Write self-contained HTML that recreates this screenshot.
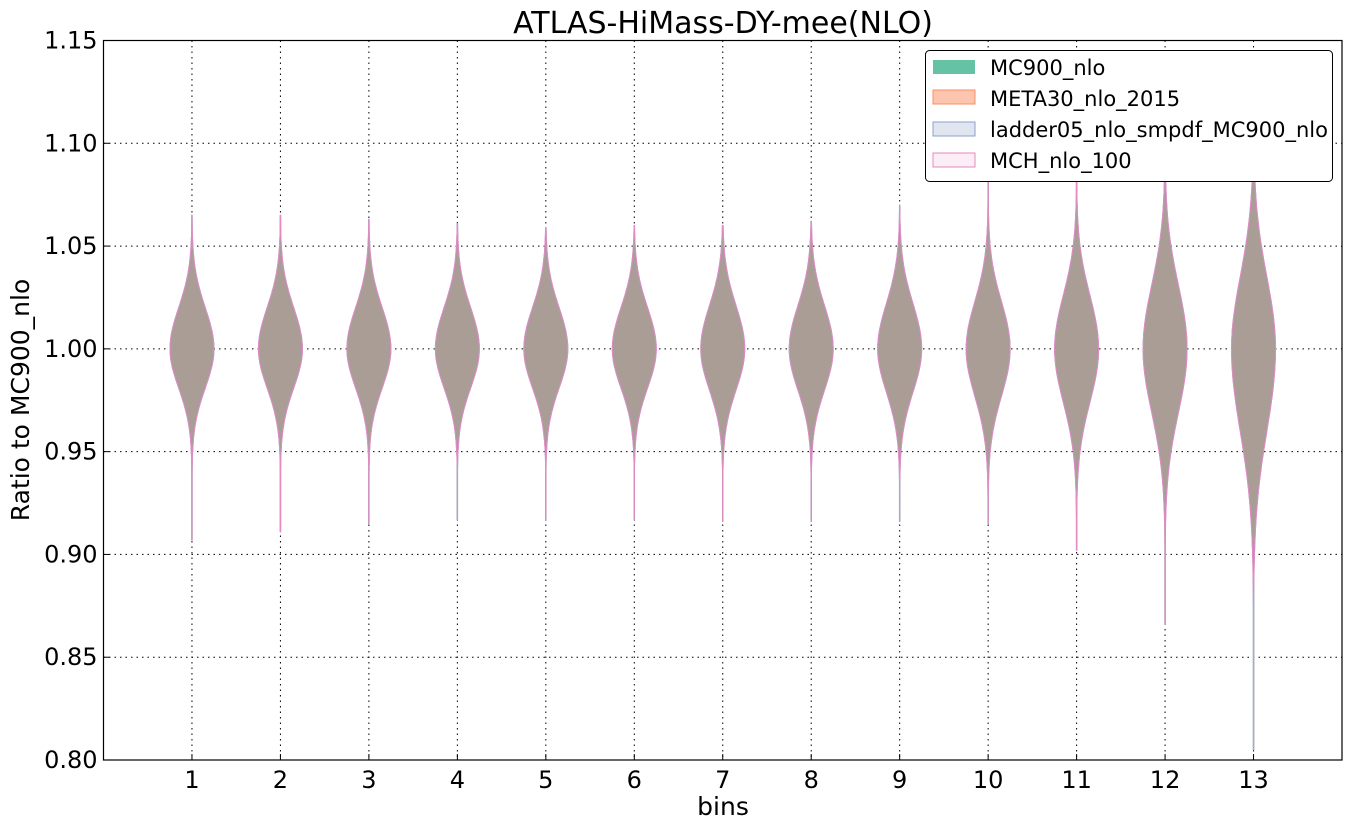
<!DOCTYPE html>
<html><head><meta charset="utf-8"><style>
body{margin:0;background:#fff;}
svg text{font-family:"DejaVu Sans","Liberation Sans",sans-serif;fill:#000;}
</style></head><body>
<svg id="chart" width="1353" height="830" xmlns="http://www.w3.org/2000/svg">
<rect width="1353" height="830" fill="#fff"/>
<g id="grid"></g>
<g id="violins"></g>
<rect x="103.5" y="40.5" width="1238.5" height="719.5" fill="none" stroke="#000" stroke-width="1.2"/>
<g id="ticks"></g>
<text x="723" y="33" font-size="30" text-anchor="middle">ATLAS-HiMass-DY-mee(NLO)</text>
<text x="723" y="815" font-size="25" text-anchor="middle">bins</text>
<text transform="translate(29,400) rotate(-90)" font-size="25" text-anchor="middle">Ratio to MC900_nlo</text>
<g>
<rect x="925.5" y="50.5" width="407" height="131" rx="4" fill="#fff" stroke="#000" stroke-width="1"/>
<g><rect x="933" y="60" width="42" height="14" fill="#66c2a5"/><text x="990" y="75" font-size="21">MC900_nlo</text></g>
<g><rect x="933" y="90" width="42" height="14" fill="#fcc5b0" stroke="#fc8d62"/><text x="990" y="106" font-size="21">META30_nlo_2015</text></g>
<g><rect x="933" y="122" width="42" height="14" fill="#e0e5f0" stroke="#8da0cb"/><text x="990" y="137" font-size="21">ladder05_nlo_smpdf_MC900_nlo</text></g>
<g><rect x="933" y="153" width="42" height="14" fill="#fbeef6" stroke="#e78ac3"/><text x="990" y="168" font-size="21">MCH_nlo_100</text></g>
</g>
</svg>
<script>
const categories=[1,2,3,4,5,6,7,8,9,10,11,12,13];
const maxVals=[1.065,1.065,1.063,1.061,1.059,1.060,1.060,1.062,1.070,1.083,1.100,1.115,1.138];
const minVals=[0.907,0.911,0.915,0.917,0.917,0.917,0.916,0.916,0.916,0.915,0.902,0.866,0.805];
const spreadUp=[0.020,0.020,0.020,0.020,0.020,0.020,0.021,0.021,0.022,0.023,0.026,0.031,0.035];
const spreadDown=[0.019,0.019,0.019,0.019,0.019,0.019,0.020,0.020,0.021,0.023,0.026,0.031,0.040];
const yTicks=[0.80,0.85,0.90,0.95,1.00,1.05,1.10,1.15];
const NS="http://www.w3.org/2000/svg";
const X0=103.5,X1=1342,Y0=760,Y1=40.5;
function xs(v){return X0+(v/14)*(X1-X0);}
function ys(v){return Y0-(v-0.80)/(1.15-0.80)*(Y0-Y1);}
const halfW=22;
function mk(tag,attrs,parent){const e=document.createElementNS(NS,tag);for(const k in attrs)e.setAttribute(k,attrs[k]);parent.appendChild(e);return e;}
const grid=document.getElementById('grid'),ticks=document.getElementById('ticks'),vg=document.getElementById('violins');
yTicks.forEach(t=>{
  const y=ys(t);
  const l=mk('line',{x1:X0,x2:X1,y1:y,y2:y,stroke:'#000','stroke-dasharray':'1.5,4','stroke-width':1},grid);
  
  
  const tk=mk('line',{x1:X0,x2:X0+6,y1:y,y2:y,stroke:'#000'},ticks);
  
  
  const tx=mk('text',{x:X0-6,y:y+8,'font-size':24,'text-anchor':'end'},ticks);
  tx.textContent=t.toFixed(2);
  
  
});
categories.forEach((c,i)=>{
  const x=xs(c);
  const l=mk('line',{x1:x,x2:x,y1:Y1,y2:Y0,stroke:'#000','stroke-dasharray':'1.5,4','stroke-width':1},grid);
  
  
  const tk=mk('line',{x1:x,x2:x,y1:Y0,y2:Y0-6,stroke:'#000'},ticks);
  
  
  const tx=mk('text',{x:x,y:Y0+28,'font-size':24,'text-anchor':'middle'},ticks);
  tx.textContent=String(c);
  
  
  const n=160,pts=[];
  for(let k=0;k<=n;k++){
    const v=minVals[i]+(maxVals[i]-minVals[i])*k/n;
    const s=v>=1?spreadUp[i]:spreadDown[i];
    const w=Math.max(0.15,halfW*Math.exp(-Math.pow(v-1,2)/(2*s*s)));
    pts.push([v,w]);
  }
  let d='';
  pts.forEach((p,k)=>{d+=(k?'L':'M')+(x+p[1]).toFixed(1)+','+ys(p[0]).toFixed(1);});
  for(let k=pts.length-1;k>=0;k--){d+='L'+(x-pts[k][1]).toFixed(1)+','+ys(pts[k][0]).toFixed(1);}
  d+='Z';
  const g=mk('g',{},vg);
  
  
  mk('line',{x1:x,x2:x,y1:ys(maxVals[i]),y2:ys(minVals[i]),stroke:'#66c2a5','stroke-width':1.5},g);
  mk('path',{d:d,fill:'#aa9d96',stroke:'#8da0cb','stroke-width':1},g);
  mk('path',{d:d,fill:'none',stroke:'#e78ac3','stroke-width':0.9},g);
});
</script>
</body></html>
